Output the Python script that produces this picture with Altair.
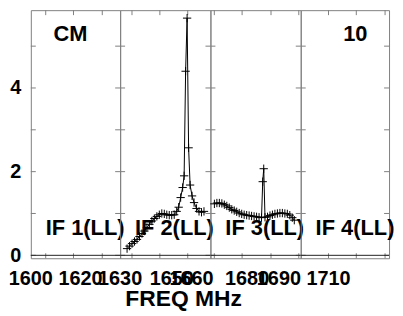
import altair as alt
import pandas as pd

# ---- layout / axis data ----
panel_names = ["IF 1(LL)", "IF 2(LL)", "IF 3(LL)", "IF 4(LL)"]
panel_widths = [90, 91, 91, 89]
x_domains = [[1600, 1636], [1630, 1665], [1666.8, 1699.3], [1698.8, 1734.4]]
label_values = [[1600, 1620], [1630, 1650], [1660, 1680], [1690, 1710]]
tick_values = [[1606, 1617.2, 1628.8], [1634.6, 1645.4, 1656.2],
               [1668.2, 1678.2, 1688.6, 1698.6], [1710, 1721.2, 1732.8]]
y_tick_values = [0, 1, 2, 3, 4, 5]
y_label_values = [0, 2, 4]
y_domain = [-0.07, 5.86]
corner_texts = {0: "CM", 3: "10"}

# ---- spectra ----
if2_freq = [1632.69, 1633.65, 1634.62, 1635.58, 1636.54, 1637.50, 1638.46, 1639.42,
            1640.38, 1641.35, 1642.31, 1643.27, 1644.23, 1645.19, 1646.15, 1647.12,
            1648.08, 1649.04, 1650.00, 1650.96, 1651.92, 1652.69, 1653.46, 1654.23,
            1654.81, 1655.38, 1655.96, 1656.54, 1657.12, 1657.88, 1658.65, 1659.62,
            1660.58, 1661.54, 1662.50]
if2_amp = [0.16, 0.22, 0.28, 0.33, 0.38, 0.45, 0.52, 0.58,
           0.66, 0.74, 0.82, 0.88, 0.93, 0.97, 1.00, 0.99,
           0.97, 0.96, 0.96, 0.97, 1.05, 1.15, 1.38, 1.62,
           1.90, 4.40, 5.67, 2.57, 1.68, 1.42, 1.26, 1.12,
           1.05, 1.03, 1.05]
if3_freq = [1668.23, 1669.12, 1670.01, 1670.91, 1671.80, 1672.69, 1673.59, 1674.48,
            1675.37, 1676.26, 1677.16, 1678.05, 1678.94, 1679.84, 1680.73, 1681.62,
            1682.51, 1683.41, 1684.30, 1685.19, 1685.62, 1685.98, 1686.44, 1687.34,
            1688.23, 1689.12, 1690.01, 1690.91, 1691.80, 1692.69, 1693.59, 1694.48,
            1695.37, 1696.27, 1696.98]
if3_amp = [1.23, 1.25, 1.25, 1.24, 1.21, 1.18, 1.14, 1.10,
           1.07, 1.04, 1.01, 0.99, 0.97, 0.96, 0.95, 0.94,
           0.93, 0.92, 0.91, 0.90, 1.76, 2.07, 0.91, 0.92,
           0.95, 0.97, 0.99, 1.00, 1.01, 1.01, 1.00, 0.99,
           0.96, 0.90, 0.84]
spectra = {1: (if2_freq, if2_amp), 2: (if3_freq, if3_amp)}

FONT = "Liberation Sans"
FRAME = "#808080"
H = 250
TICK = 5


def panel(i):
    w = panel_widths[i]
    xs = alt.Scale(domain=x_domains[i], nice=False, zero=False)
    ys = alt.Scale(domain=y_domain, nice=False, zero=False)
    yaxis = alt.Axis(values=y_label_values, labelFontSize=20, labelFontWeight="bold",
                     labelFont=FONT, labelColor="black", ticks=False, domain=False,
                     grid=False, title=None, labelPadding=10) if i == 0 else None

    ydf = pd.DataFrame({"v": y_tick_values})
    xdf = pd.DataFrame({"v": tick_values[i]})
    layers = []
    # y tick marks, inside left and right edges
    layers.append(alt.Chart(ydf).mark_rule(color=FRAME, strokeWidth=1).encode(
        y=alt.Y("v:Q", scale=ys, axis=yaxis), x=alt.value(0), x2=alt.value(TICK)))
    layers.append(alt.Chart(ydf).mark_rule(color=FRAME, strokeWidth=1).encode(
        y=alt.Y("v:Q", scale=ys, axis=yaxis), x=alt.value(w - TICK), x2=alt.value(w)))
    # x tick marks, inside top and bottom
    layers.append(alt.Chart(xdf).mark_rule(color=FRAME, strokeWidth=1).encode(
        x=alt.X("v:Q", scale=xs, axis=None), y=alt.value(0), y2=alt.value(TICK)))
    layers.append(alt.Chart(xdf).mark_rule(color=FRAME, strokeWidth=1).encode(
        x=alt.X("v:Q", scale=xs, axis=None), y=alt.value(H - TICK), y2=alt.value(H)))
    # zero line
    layers.append(alt.Chart(pd.DataFrame({"v": [0]})).mark_rule(color="#222222", strokeWidth=1).encode(
        y=alt.Y("v:Q", scale=ys, axis=yaxis), x=alt.value(0), x2=alt.value(w)))
    # spectrum
    if i in spectra:
        f, a = spectra[i]
        sdf = pd.DataFrame({"f": f, "a": a})
        enc = dict(x=alt.X("f:Q", scale=xs, axis=None), y=alt.Y("a:Q", scale=ys, axis=yaxis))
        layers.append(alt.Chart(sdf).mark_line(color="black", strokeWidth=1).encode(**enc))
        layers.append(alt.Chart(sdf).mark_point(shape="M-1,0L1,0M0,-1L0,1", size=70, filled=False,
                                                color="black", strokeWidth=1, opacity=1).encode(**enc))
    # tick labels
    ldf = pd.DataFrame({"v": label_values[i], "t": [str(v) for v in label_values[i]]})
    layers.append(alt.Chart(ldf).mark_text(font=FONT, fontSize=20, fontWeight="bold", color="black",
                                           align="center", baseline="alphabetic").encode(
        x=alt.X("v:Q", scale=xs, axis=None), y=alt.value(277), text="t:N"))
    # IF label
    layers.append(alt.Chart(pd.DataFrame({"t": [panel_names[i]]})).mark_text(
        font=FONT, fontSize=22, fontWeight="bold", color="black", align="left", baseline="middle").encode(
        x=alt.value(15), y=alt.value(220), text="t:N"))
    if i in corner_texts:
        layers.append(alt.Chart(pd.DataFrame({"t": [corner_texts[i]]})).mark_text(
            font=FONT, fontSize=22, fontWeight="bold", color="black", align="center", baseline="middle").encode(
            x=alt.value(40 if i == 0 else 55), y=alt.value(24), text="t:N"))
    if i == 1:
        layers.append(alt.Chart(pd.DataFrame({"t": ["FREQ MHz"]})).mark_text(
            font=FONT, fontSize=23, fontWeight="bold", color="black", align="center", baseline="alphabetic").encode(
            x=alt.value(64), y=alt.value(298), text="t:N"))
    return alt.layer(*layers).properties(width=w, height=H)


chart = alt.hconcat(*[panel(i) for i in range(4)], spacing=0, bounds="flush").properties(
    padding=0, background="white"
).configure_view(stroke=FRAME, strokeWidth=1)

chart.save("out.html", embed_options={"renderer": "svg", "actions": False})
